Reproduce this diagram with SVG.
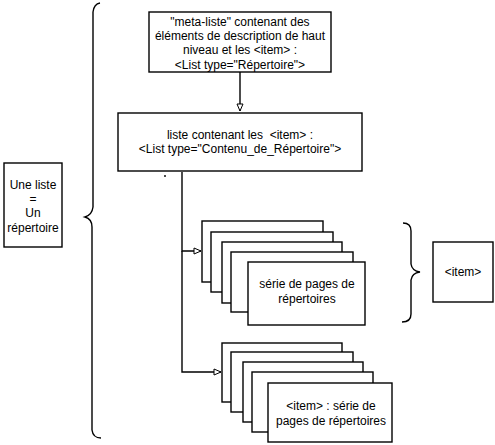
<svg xmlns="http://www.w3.org/2000/svg" width="495" height="445" viewBox="0 0 495 445">
<defs>
<style>
.b{fill:#fff;stroke:#000;stroke-width:1.4}
.t{font-family:"Liberation Sans",Arial,sans-serif;font-size:12px;fill:#000;text-anchor:middle}
.c{fill:none;stroke:#000;stroke-width:1.4}
</style>
<marker id="ah" markerWidth="10" markerHeight="10" refX="8" refY="4" orient="auto" markerUnits="userSpaceOnUse">
<path d="M1,1 L8,4 L1,7 Z" fill="#fff" stroke="#000" stroke-width="1"/>
</marker>
</defs>
<rect width="495" height="445" fill="#fff"/>
<g id="connectors">
<line class="c" x1="240" y1="72" x2="240" y2="111" marker-end="url(#ah)"/>
<path class="c" d="M182,172 V251 H201" marker-end="url(#ah)"/>
<path class="c" d="M182,251 V372 H221" marker-end="url(#ah)"/>
<line class="c" x1="165" y1="175" x2="165" y2="177"/>
</g>
<g id="brace-left">
<path class="c" d="M100,3 Q94,4 93,12 V207 Q92,215 85,217 Q92,219 92,227 V430 Q93,438 101,438"/>
</g>
<g id="brace-right">
<path class="c" d="M403,223 Q411,223 411,231 V264 Q412,271 420,272 Q412,273 411,280 V314 Q411,322 402,322"/>
</g>
<g id="node-left">
<rect class="b" x="4" y="163" width="58" height="84"/>
<text class="t" x="33" y="189">Une liste</text>
<text class="t" x="33" y="203">=</text>
<text class="t" x="33" y="217">Un</text>
<text class="t" x="33" y="232">répertoire</text>
</g>
<g id="node-meta">
<rect class="b" x="149" y="12" width="182" height="60"/>
<text class="t" x="240" y="26">"meta-liste" contenant des</text>
<text class="t" x="240" y="40">éléments de description de haut</text>
<text class="t" x="240" y="54">niveau et les &lt;item&gt; :</text>
<text class="t" x="240" y="69">&lt;List type="Répertoire"&gt;</text>
</g>
<g id="node-liste">
<rect class="b" x="118" y="113" width="244" height="58"/>
<text class="t" x="240" y="139" xml:space="preserve">liste contenant les  &lt;item&gt; :</text>
<text class="t" x="240" y="153">&lt;List type="Contenu_de_Répertoire"&gt;</text>
</g>
<g id="stack-1">
<rect class="b" x="202" y="221" width="121" height="61"/>
<rect class="b" x="211" y="232" width="122" height="60"/>
<rect class="b" x="222" y="242" width="120" height="61"/>
<rect class="b" x="231" y="252" width="122" height="60"/>
<rect class="b" x="248" y="262" width="117" height="63"/>
<text class="t" x="307" y="288">série de pages de</text>
<text class="t" x="307" y="303">répertoires</text>
</g>
<g id="stack-2">
<rect class="b" x="222" y="343" width="120" height="59"/>
<rect class="b" x="231" y="352" width="122" height="60"/>
<rect class="b" x="243" y="362" width="120" height="60"/>
<rect class="b" x="252" y="372" width="121" height="60"/>
<rect class="b" x="268" y="383" width="124" height="59"/>
<text class="t" x="331" y="410">&lt;item&gt; : série de</text>
<text class="t" x="331" y="425">pages de répertoires</text>
</g>
<g id="node-item">
<rect class="b" x="433" y="242" width="60" height="60"/>
<text class="t" x="463" y="276">&lt;item&gt;</text>
</g>
</svg>
